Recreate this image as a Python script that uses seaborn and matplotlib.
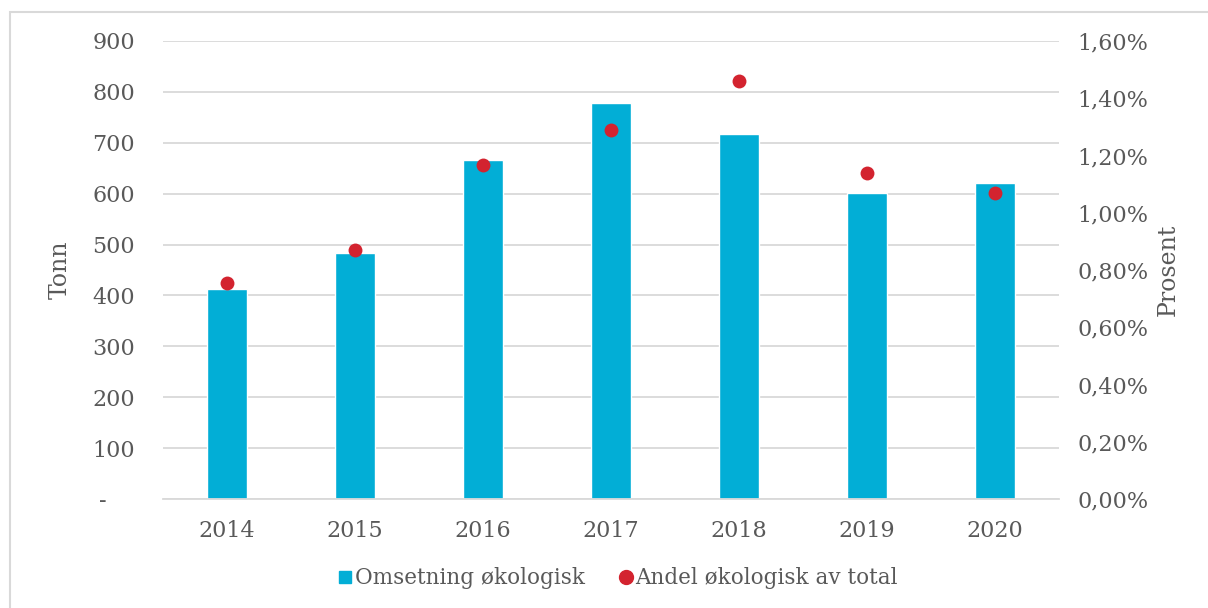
import numpy as np
import pandas as pd
import seaborn as sns
import matplotlib
matplotlib.use("Agg")
from matplotlib import pyplot as plt
from matplotlib.ticker import FuncFormatter, MultipleLocator
from matplotlib.lines import Line2D
from matplotlib.patches import Rectangle

years = ["2014", "2015", "2016", "2017", "2018", "2019", "2020"]
tonn = [413, 484, 667, 778, 717, 601, 621]
andel_pct = [0.755, 0.870, 1.167, 1.290, 1.461, 1.139, 1.069]

bar_color = "#02AED6"
dot_color = "#D3232F"
text_color = "#595959"
grid_color = "#D9D9D9"

sns.set_theme(style="white")
plt.rcParams["font.family"] = ["DejaVu Serif"]
plt.rcParams["font.size"] = 15

df = pd.DataFrame({"year": years, "tonn": tonn, "andel": andel_pct})

fig = plt.figure(figsize=(12.08, 6.08), dpi=100)
ax = fig.add_axes([0.1349, 0.1793, 0.7418, 0.7533])

sns.barplot(data=df, x="year", y="tonn", color=bar_color, width=0.31,
            saturation=1, ax=ax, zorder=2)
ax.set_ylim(0, 900)
ax.yaxis.set_major_locator(MultipleLocator(100))
ax.yaxis.set_major_formatter(FuncFormatter(lambda v, p: "-    " if v == 0 else f"{v:.0f}"))
ax.grid(axis="y", color=grid_color, linewidth=1.3, zorder=0)
ax.set_axisbelow(True)
for s in ["top", "right", "left"]:
    ax.spines[s].set_visible(False)
ax.spines["bottom"].set_color(grid_color)
ax.spines["bottom"].set_linewidth(1.3)
ax.tick_params(axis="y", length=0, pad=20, colors=text_color, labelsize=16)
ax.tick_params(axis="x", length=0, pad=15, colors=text_color, labelsize=16)
ax.set_xlabel("")
ax.set_ylabel("Tonn", color=text_color, fontsize=17)
ax.yaxis.label.set_va("center")
ax.yaxis.set_label_coords(-0.115, 0.5)

ax2 = ax.twinx()
sns.stripplot(data=df, x="year", y="andel", color=dot_color, jitter=False,
              size=10, linewidth=0, ax=ax2, zorder=3)
ax2.set_ylim(0, 1.6)
ax2.yaxis.set_major_locator(MultipleLocator(0.2))
ax2.yaxis.set_major_formatter(FuncFormatter(lambda v, p: f"{v:.2f}%".replace(".", ",")))
for s in ax2.spines.values():
    s.set_visible(False)
ax2.tick_params(axis="y", length=0, pad=13, colors=text_color, labelsize=16)
ax2.set_xlabel("")
ax2.set_ylabel("Prosent", color=text_color, fontsize=17)
ax2.yaxis.label.set_va("center")
ax2.yaxis.set_label_coords(1.1217, 0.5)

handles = [
    Line2D([], [], marker="s", color=bar_color, linestyle="", markersize=9),
    Line2D([], [], marker="o", color=dot_color, linestyle="", markersize=10),
]
leg = fig.legend(handles, ["Omsetning økologisk", "Andel økologisk av total"],
                 loc="center", bbox_to_anchor=(0.512, 0.049), ncol=2,
                 frameon=False, handlelength=0.6, handletextpad=0.15,
                 columnspacing=1.6, fontsize=15.5)
for t in leg.get_texts():
    t.set_color(text_color)

fig.patches.append(Rectangle((0.0083, -0.1), 1.2, 1.0803, transform=fig.transFigure,
                             fill=False, edgecolor=grid_color, linewidth=1.5))

fig.savefig("out.png", dpi=100)
